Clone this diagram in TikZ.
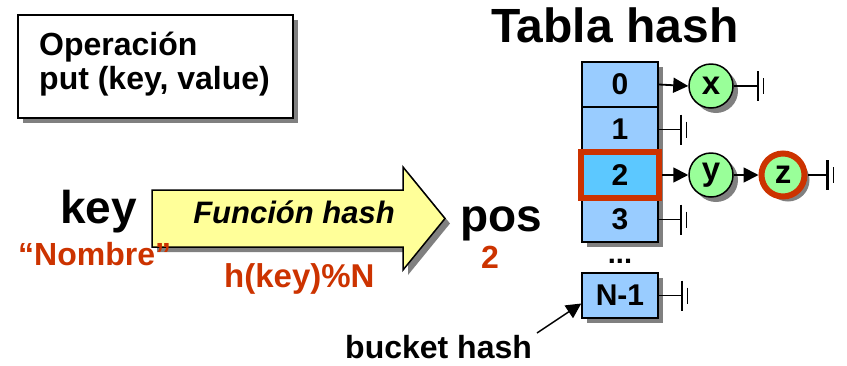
\documentclass[tikz,border=0pt]{standalone}
\usepackage{fontspec}
\setmainfont{Liberation Sans}
\usetikzlibrary{shadows,arrows.meta,calc}
\definecolor{cellblue}{HTML}{99CCFF}
\definecolor{selblue}{HTML}{5CC8FF}
\definecolor{nodegreen}{HTML}{99FF99}
\definecolor{hred}{HTML}{CC3300}
\definecolor{arrowyellow}{HTML}{FFFF99}
\definecolor{shadowgray}{HTML}{808080}
\newcommand{\fsz}[1]{\fontsize{#1}{#1}\selectfont\bfseries}
\begin{document}
\begin{tikzpicture}[x=1pt,y=-1pt,
  shad/.style={drop shadow={shadow xshift=5pt,shadow yshift=-5pt,fill=shadowgray,opacity=1}},
  txt/.style={inner sep=0pt,font=\fsz{32}},
  cellbox/.style={draw=black,line width=1.5pt,fill=cellblue,minimum width=76pt,minimum height=45pt,inner sep=0pt,font=\fsz{30}},
  listnode/.style={circle,draw=black,line width=1.5pt,fill=nodegreen,minimum size=44pt,inner sep=0pt,font=\fsz{33},shad},
  link/.style={line width=1.8pt,-{Triangle[length=15pt,width=15pt]}},
  endline/.style={line width=1.5pt},
]
\useasboundingbox (0,0) rectangle (847,365);
\newcommand{\nullend}[1]{%
  \draw[line width=2.5pt] ($(#1)+(0,-15)$) -- ($(#1)+(0,15)$);
  \draw[line width=1.3pt] ($(#1)+(6,-8)$) -- ($(#1)+(6,8)$);}

% operation box
\node[draw=black,line width=1.5pt,fill=white,minimum width=275pt,minimum height=103pt,shad] (opbox) at (155.5,66.5) {};
\node[txt,anchor=base west] (op1) at (39,55) {Operación};
\node[txt,anchor=base west] (op2) at (39,89) {put (key, value)};

% title
\node[inner sep=0pt,font=\fsz{48},anchor=base west] (title) at (491,42) {Tabla hash};

% table
\fill[shadowgray] (587,67) rectangle (663,247);
\node[cellbox] (c0) at (620,84.5) {0};
\node[cellbox] (c1) at (620,129.5) {1};
\node[cellbox] (c3) at (620,219.5) {3};
\node[cellbox,fill=selblue,draw=hred,line width=6pt,minimum width=78pt,minimum height=46pt] (c2) at (620,175) {2};
\node[inner sep=0pt,font=\fsz{29},anchor=base] (dots) at (620,263) {...};
\node[cellbox,shad] (cn) at (620,295.5) {N-1};

% lists
\node[listnode] (nx) at (711,86) {x};
\node[listnode] (ny) at (711,175) {y};
\node[listnode,draw=hred,line width=6pt,minimum size=43pt] (nz) at (783,175) {z};

\draw[link] (c0.east) -- (nx.west);
\draw[link] (c2.east) -- (ny.west);
\draw[link] (ny.east) -- (nz.west);

\draw[endline] (nx.east) -- ++(24,0) coordinate (ex);
\nullend{ex}
\draw[endline] (c1.east) -- ++(22,0) coordinate (e1);
\nullend{e1}
\draw[endline] (c3.east) -- ++(22,0) coordinate (e3);
\nullend{e3}
\draw[endline] (nz.east) -- ++(20,0) coordinate (ez);
\nullend{ez}
\draw[endline] (cn.east) -- ++(23,0) coordinate (en);
\nullend{en}

% hash arrow
\draw[draw=black,line width=1.5pt,fill=arrowyellow,shad]
  (152,190) -- (403,190) -- (403,167) -- (445,218.5) -- (403,270) -- (403,247) -- (152,247) -- cycle;
\node[inner sep=0pt,font=\fsz{31}\itshape,anchor=base] (fh) at (294,223) {Función hash};

% key / pos
\node[inner sep=0pt,font=\fsz{46},anchor=base west] (key) at (60,223) {key};
\node[inner sep=0pt,font=\fsz{46},anchor=base west] (pos) at (460,231) {pos};
\node[txt,text=hred,anchor=base west] (nombre) at (18,265) {“Nombre”};
\node[txt,text=hred,font=\fsz{33},anchor=base west] (hk) at (224,287) {h(key)\%N};
\node[txt,text=hred,anchor=base west] (two) at (481,268) {2};

% bucket hash
\node[txt,anchor=base west] (bh) at (345,358) {bucket hash};
\coordinate (bhs) at (537,333);
\draw[link,line width=1.5pt] (bhs) -- ([yshift=-8pt]cn.west);
\end{tikzpicture}
\end{document}
